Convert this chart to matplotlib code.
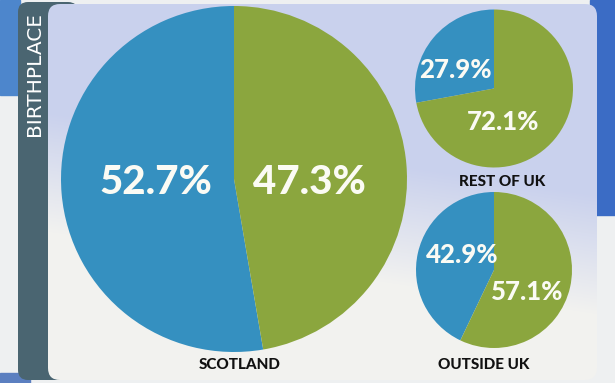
import numpy as np
import matplotlib
matplotlib.use("Agg")
import matplotlib.pyplot as plt
from matplotlib.patches import FancyBboxPatch, Rectangle

# data
groups = ["SCOTLAND", "REST OF UK", "OUTSIDE UK"]
share_blue = [52.7, 27.9, 42.9]
share_green = [47.3, 72.1, 57.1]
title = "BIRTHPLACE"

BLUE = "#3590c0"
GREEN = "#8ba63e"
SLATE = "#4a6571"

W, H = 615, 383

fig = plt.figure(figsize=(6.15, 3.83), dpi=100, facecolor="#eef0f1")
ax = fig.add_axes([0, 0, 1, 1])
ax.set_xlim(0, W)
ax.set_ylim(0, H)
ax.axis("off")


def img_y(y):
    # picture rows run top-down, axes run bottom-up
    return H - y


# blurred flag behind the panel
ax.add_patch(Rectangle((0, img_y(95)), 20, 95, color="#4d86cc", zorder=0))
ax.add_patch(Rectangle((590, img_y(215)), 25, 215, color="#3b6cc5", zorder=0))
ax.add_patch(Rectangle((0, 0), 30, 10, color="#5b7fc0", zorder=0))

# slate strip with the rotated heading
strip = FancyBboxPatch((18, img_y(380)), 60, 378, boxstyle="round,pad=0,rounding_size=10",
                       fc=SLATE, ec="none", zorder=1)
ax.add_patch(strip)
ax.text(34, img_y(74), title, rotation=90, ha="center", va="center", color="white",
        fontsize=14.5, family=["Liberation Sans Narrow", "DejaVu Sans"], zorder=5)

# light panel with a soft top-to-bottom fade
panel = FancyBboxPatch((48, img_y(380)), 549, 376, boxstyle="round,pad=0,rounding_size=12",
                       fc="none", ec="none", zorder=2)
ax.add_patch(panel)
yy, xx = np.mgrid[0:H, 0:W]
t = np.clip((yy - 150 + (xx - 300) * -0.15) / 120.0, 0, 1)
top = np.array([0.79, 0.82, 0.93])
bot = np.array([0.95, 0.95, 0.94])
grad = top[None, None, :] * (1 - t[..., None]) + bot[None, None, :] * t[..., None]
im = ax.imshow(grad, extent=(0, W, 0, H), origin="upper", zorder=2, aspect="auto")
im.set_clip_path(panel)

# pies
centers = [(234, 179), (494, 88.5), (494, 270)]
radii = [173, 79, 78]
for (cx, cy), r, b, g in zip(centers, radii, share_blue, share_green):
    ax.pie([b, g], colors=[BLUE, GREEN], startangle=90, counterclock=True,
           center=(cx, img_y(cy)), radius=r, frame=True,
           wedgeprops=dict(linewidth=0, zorder=3))
ax.set_xlim(0, W)
ax.set_ylim(0, H)
ax.set_aspect("auto")
ax.axis("off")

# percentage labels
pct_font = dict(family="Lato", weight="black", color="#fbfbf4", ha="center", va="center", zorder=6)
blue_pos = [(156, 183), (455, 70), (462, 255)]
green_pos = [(309, 183), (503, 122), (527, 292)]
sizes = [29, 18.5, 18.5]
for bp, gp, b, g, fs in zip(blue_pos, green_pos, share_blue, share_green, sizes):
    ax.text(bp[0], img_y(bp[1]), f"{b}%", fontsize=fs, **pct_font)
    ax.text(gp[0], img_y(gp[1]), f"{g}%", fontsize=fs, **pct_font)

# group names
name_pos = [(240, 365), (502, 182), (484, 365)]
for (x, y), name in zip(name_pos, groups):
    ax.text(x, img_y(y), name, fontsize=11, family="Lato", weight="black",
            color="#111111", ha="center", va="center", zorder=6)

fig.savefig("out.png", dpi=100, facecolor=fig.get_facecolor())
